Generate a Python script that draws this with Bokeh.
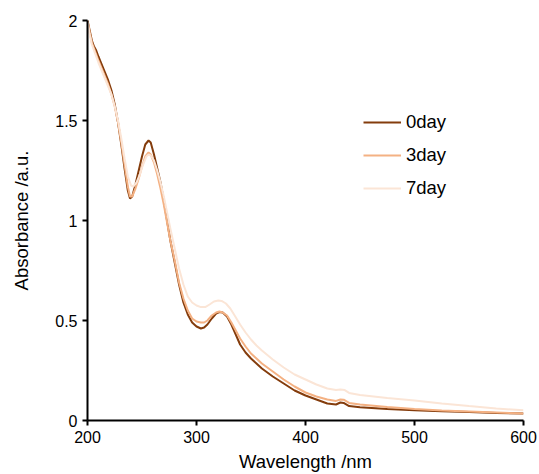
from bokeh.plotting import figure
from bokeh.models import Range1d, FixedTicker, Legend, LegendItem
from bokeh.embed import file_html
from bokeh.resources import INLINE

wl0 = [200, 202, 204, 206, 208, 210, 213, 216, 219, 222, 225, 228, 231, 234, 237, 239, 241, 244, 247, 250,
       253, 256, 258, 261, 264, 267, 270, 273, 276, 280, 284, 288, 292, 296, 300, 304, 307, 310, 314, 318,
       321, 324, 328, 332, 336, 340, 345, 350, 355, 360, 370, 380, 390, 400, 410, 420, 428, 432, 435, 440,
       450, 475, 500, 525, 550, 575, 600]
abs0 = [2.00, 1.95, 1.90, 1.87, 1.85, 1.82, 1.78, 1.74, 1.70, 1.65, 1.58, 1.49, 1.38, 1.26, 1.15, 1.11, 1.12, 1.18, 1.25, 1.32,
        1.38, 1.40, 1.39, 1.33, 1.26, 1.19, 1.10, 1.00, 0.90, 0.79, 0.68, 0.59, 0.53, 0.49, 0.47, 0.46, 0.465, 0.48, 0.51, 0.535,
        0.542, 0.54, 0.52, 0.48, 0.43, 0.38, 0.34, 0.31, 0.285, 0.26, 0.22, 0.185, 0.15, 0.125, 0.105, 0.085, 0.08, 0.09, 0.088, 0.072,
        0.066, 0.058, 0.051, 0.046, 0.042, 0.038, 0.035]

wl3 = [200, 202, 204, 206, 208, 210, 213, 216, 219, 222, 225, 228, 231, 234, 237, 239, 241, 244, 247, 250,
       253, 256, 258, 261, 264, 267, 270, 273, 276, 280, 284, 288, 292, 296, 300, 304, 307, 310, 314, 318,
       321, 324, 328, 332, 336, 340, 345, 350, 355, 360, 370, 380, 390, 400, 410, 420, 428, 432, 435, 440,
       450, 475, 500, 525, 550, 575, 600]
abs3 = [2.00, 1.94, 1.89, 1.86, 1.83, 1.80, 1.76, 1.72, 1.68, 1.63, 1.57, 1.49, 1.39, 1.28, 1.17, 1.12, 1.12, 1.16, 1.21, 1.27,
        1.32, 1.34, 1.33, 1.29, 1.23, 1.16, 1.08, 0.99, 0.90, 0.80, 0.69, 0.61, 0.55, 0.51, 0.495, 0.49, 0.49, 0.50, 0.525, 0.54,
        0.545, 0.54, 0.525, 0.49, 0.45, 0.41, 0.37, 0.335, 0.31, 0.285, 0.245, 0.205, 0.17, 0.14, 0.12, 0.105, 0.098, 0.105, 0.104, 0.088,
        0.08, 0.068, 0.058, 0.05, 0.045, 0.04, 0.035]

wl7 = [200, 202, 204, 206, 208, 210, 213, 216, 219, 222, 225, 228, 231, 234, 237, 240, 242, 245, 248, 251,
       254, 256, 258, 261, 264, 267, 270, 273, 276, 280, 284, 288, 292, 296, 300, 304, 308, 312, 316, 320,
       323, 327, 331, 335, 340, 345, 350, 355, 360, 370, 380, 390, 400, 410, 420, 428, 432, 436, 440,
       450, 475, 500, 525, 550, 575, 600]
abs7 = [1.99, 1.93, 1.88, 1.85, 1.82, 1.79, 1.75, 1.71, 1.67, 1.63, 1.57, 1.50, 1.41, 1.31, 1.22, 1.175, 1.17, 1.19, 1.23, 1.28,
        1.32, 1.33, 1.325, 1.30, 1.25, 1.19, 1.12, 1.04, 0.96, 0.86, 0.76, 0.68, 0.62, 0.59, 0.575, 0.567, 0.567, 0.58, 0.595, 0.60,
        0.598, 0.585, 0.56, 0.525, 0.48, 0.44, 0.405, 0.375, 0.35, 0.305, 0.265, 0.23, 0.205, 0.18, 0.16, 0.152, 0.155, 0.152, 0.138,
        0.128, 0.112, 0.10, 0.085, 0.072, 0.06, 0.051]

labels = ["0day", "3day", "7day"]
colors = ["#843C0C", "#F4B183", "#FBE5D6"]
x_ticks = [200, 300, 400, 500, 600]
y_ticks = [0, 0.5, 1, 1.5, 2]
y_tick_labels = ["0", "0.5", "1", "1.5", "2"]

FONT = "Liberation Sans"

p = figure(width=539, height=474, output_backend="svg", toolbar_location=None,
           x_range=Range1d(200, 600), y_range=Range1d(0, 2),
           min_border_left=87, min_border_right=16, min_border_top=20, min_border_bottom=53)
p.outline_line_color = None
p.xgrid.visible = False
p.ygrid.visible = False

r0 = p.line(wl0, abs0, line_color=colors[0], line_width=2)
r3 = p.line(wl3, abs3, line_color=colors[1], line_width=2)
r7 = p.line(wl7, abs7, line_color=colors[2], line_width=2)

for ax in (p.xaxis[0], p.yaxis[0]):
    ax.axis_line_color = "black"
    ax.axis_line_width = 2
    ax.major_tick_line_color = "black"
    ax.major_tick_line_width = 2
    ax.major_tick_out = 5
    ax.major_tick_in = 0
    ax.minor_tick_line_color = None
    ax.major_label_text_font = FONT
    ax.major_label_text_font_size = "16px"
    ax.major_label_text_color = "black"
    ax.axis_label_text_font = FONT
    ax.axis_label_text_font_size = "18.5px"
    ax.axis_label_text_font_style = "normal"
    ax.axis_label_text_color = "black"

p.xaxis[0].ticker = FixedTicker(ticks=x_ticks)
p.yaxis[0].ticker = FixedTicker(ticks=y_ticks)
p.yaxis[0].major_label_overrides = {t: l for t, l in zip(y_ticks, y_tick_labels)}
p.xaxis[0].axis_label = "Wavelength /nm"
p.yaxis[0].axis_label = "Absorbance /a.u."
p.xaxis[0].axis_label_standoff = 5
p.yaxis[0].axis_label_standoff = 20

legend = Legend(items=[LegendItem(label=l, renderers=[r]) for l, r in zip(labels, [r0, r3, r7])],
                location=(276, 221), border_line_color=None, background_fill_alpha=0,
                padding=0, margin=0, spacing=11, glyph_width=38, glyph_height=20,
                label_height=20, label_standoff=5,
                label_text_font=FONT, label_text_font_size="18.5px", label_text_color="black")
p.add_layout(legend)

open("out.html", "w").write(file_html(p, INLINE))
